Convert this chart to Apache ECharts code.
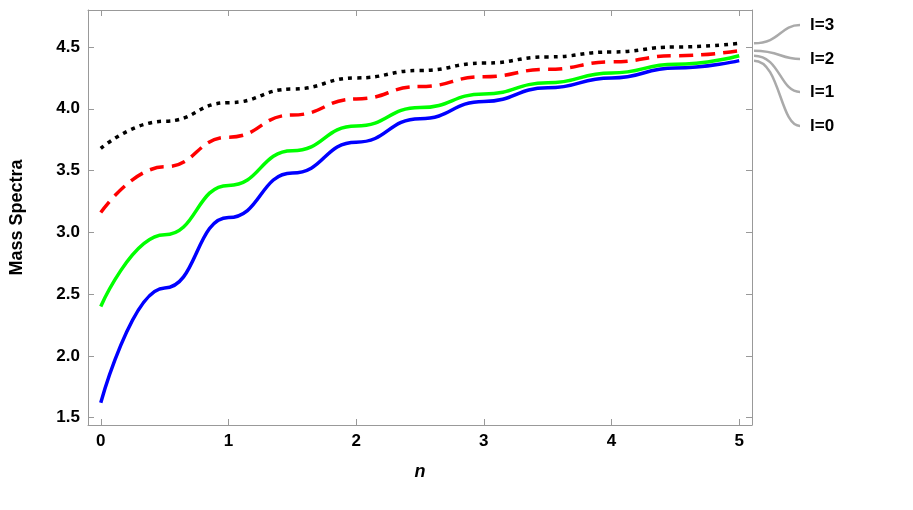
<!DOCTYPE html>
<html>
<head>
<meta charset="utf-8">
<script src="https://cdn.jsdelivr.net/npm/echarts@6/dist/echarts.min.js"></script>
<style>html,body{margin:0;background:#fff}#main{width:913px;height:510px}</style>
</head>
<body>
<div id="main"></div>
<script>
let nVals = [0, 0.5, 1, 1.5, 2, 2.5, 3, 3.5, 4, 4.5, 5];
let l0 = [1.62, 2.55, 3.12, 3.48, 3.73, 3.92, 4.06, 4.17, 4.25, 4.33, 4.39];
let l1 = [2.40, 2.98, 3.38, 3.66, 3.86, 4.01, 4.12, 4.21, 4.29, 4.36, 4.43];
let l2 = [3.16, 3.53, 3.77, 3.95, 4.08, 4.18, 4.26, 4.32, 4.38, 4.43, 4.47];
let l3 = [3.68, 3.90, 4.05, 4.16, 4.25, 4.31, 4.37, 4.42, 4.46, 4.50, 4.53];
let names = ['l=0', 'l=1', 'l=2', 'l=3'];

let myChart = echarts.init(document.getElementById('main'));
function pts(arr) { return nVals.map((x, i) => [x, arr[i]]); }
function mk(name, arr, color, type) {
  return {
    name: name, type: 'line', data: pts(arr), smooth: 0.5, smoothMonotone: 'x', symbol: 'none',
    lineStyle: { color: color, width: 3.5, type: type }, z: 3
  };
}
let axisCommon = {
  axisLine: { show: true, onZero: false, lineStyle: { color: '#999' } },
  axisTick: { show: true, inside: true, length: 6, lineStyle: { color: '#999' } },
  minorTick: { show: false },
  splitLine: { show: false },
  axisLabel: { color: '#000', fontSize: 17, fontWeight: 'bold', fontFamily: 'Liberation Sans' }
};
let xt = [0, 1, 2, 3, 4, 5];
let yt = [1.5, 2, 2.5, 3, 3.5, 4, 4.5];
let option = {
  animation: false,
  grid: { left: 88, right: 161, top: 10, bottom: 85 },
  xAxis: [Object.assign({}, axisCommon, {
    type: 'value', min: -0.1, max: 5.1,
    name: 'n', nameLocation: 'middle', nameGap: 38,
    nameTextStyle: { fontSize: 18, fontWeight: 'bold', fontStyle: 'italic', fontFamily: 'Liberation Sans', color: '#000' },
    axisLabel: Object.assign({}, axisCommon.axisLabel, { customValues: xt }),
    axisTick: Object.assign({}, axisCommon.axisTick, { customValues: xt })
  }),
  Object.assign({}, axisCommon, { type: 'value', min: -0.1, max: 5.1, position: 'top',
    axisLabel: { show: false },
    axisTick: Object.assign({}, axisCommon.axisTick, { customValues: xt })
  })],
  yAxis: [Object.assign({}, axisCommon, {
    type: 'value', min: 1.44, max: 4.8,
    name: 'Mass Spectra', nameLocation: 'middle', nameGap: 62,
    nameTextStyle: { fontSize: 18, fontWeight: 'bold', fontFamily: 'Liberation Sans', color: '#000' },
    axisLabel: Object.assign({}, axisCommon.axisLabel, { customValues: yt, formatter: v => v.toFixed(1) }),
    axisTick: Object.assign({}, axisCommon.axisTick, { customValues: yt })
  }),
  Object.assign({}, axisCommon, { type: 'value', min: 1.44, max: 4.8, position: 'right',
    axisLabel: { show: false },
    axisTick: Object.assign({}, axisCommon.axisTick, { customValues: yt })
  })],
  series: [
    mk(names[0], l0, '#0000ff', 'solid'),
    mk(names[1], l1, '#00ff00', 'solid'),
    mk(names[2], l2, '#ff0000', [14, 8]),
    mk(names[3], l3, '#000000', [4, 5])
  ]
};
myChart.setOption(option);

// callout labels on the right
let labelY = [126, 92, 59, 25];
let g = [];
[l0, l1, l2, l3].forEach(function (arr, i) {
  let end = myChart.convertToPixel({ gridIndex: 0 }, [5.1, arr[arr.length - 1]]);
  let y0 = end[1], y1 = labelY[i];
  g.push({ type: 'bezierCurve', shape: { x1: end[0] + 2, y1: y0, x2: 800, y2: y1, cpx1: 780, cpy1: y0, cpx2: 780, cpy2: y1 },
    style: { stroke: '#aaa', lineWidth: 2.5, fill: null } });
  g.push({ type: 'text', x: 810, y: y1, style: { text: names[i], fontSize: 17, fontWeight: 'bold', fontFamily: 'Liberation Sans', fill: '#000', verticalAlign: 'middle' } });
});
myChart.setOption({ graphic: g });
</script>
</body>
</html>
